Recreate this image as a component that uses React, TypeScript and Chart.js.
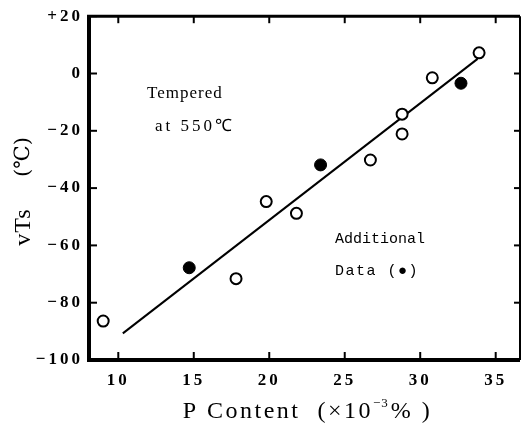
import React, { useEffect, useRef } from "react";
import { Chart, registerables } from "chart.js";

Chart.register(...registerables);

// ---- data ----
const xTickValues = [10, 15, 20, 25, 30, 35];
const yTickValues = [20, 0, -20, -40, -60, -80, -100];

const openX = [9.0, 17.8, 19.8, 21.8, 26.7, 28.8, 28.8, 30.8, 33.9];
const openY = [-86.4, -71.6, -44.7, -48.8, -30.2, -14.2, -21.1, -1.5, 7.2];

const filledX = [14.7, 23.4, 32.7];
const filledY = [-67.8, -31.9, -3.4];

const fitX = [10.3, 33.8];
const fitY = [-90.7, 5.1];

const xTitleMain = "P Content  (×10";
const xTitleSup = "−3";
const xTitleEnd = "% )";
const yTitleMain = "vTs";
const yTitleUnit = "(℃)";

const notes = [
  { text: "Tempered", x: 11.9, y: -8.5, font: "17px 'Liberation Serif', serif", spacing: "1px" },
  { text: "at 550℃", x: 12.43, y: -20, font: "17px 'Liberation Serif', serif", spacing: "3px" },
  { text: "Additional", x: 24.35, y: -59.3, font: "15px 'Liberation Mono', monospace", spacing: "0px" },
  { text: "Data (●)", x: 24.35, y: -70.4, font: "15px 'Liberation Mono', monospace", spacing: "1.5px" },
];

const fmtY = (v: number) => (v > 0 ? "+" + v : v < 0 ? "−" + Math.abs(v) : "0");

const framePlugin = {
  id: "framePlugin",
  beforeDraw(chart: any) {
    chart.ctx.letterSpacing = "3px";
  },
  beforeDatasetsDraw(chart: any) {
    chart.ctx.letterSpacing = "0px";
  },
  afterDraw(chart: any) {
    const ctx = chart.ctx as CanvasRenderingContext2D;
    const a = chart.chartArea;
    const xs = chart.scales.x;
    const ys = chart.scales.y;
    ctx.save();
    ctx.strokeStyle = "#000";
    ctx.fillStyle = "#000";
    ctx.lineCap = "butt";
    const seg = (x1: number, y1: number, x2: number, y2: number, w: number) => {
      ctx.lineWidth = w;
      ctx.beginPath();
      ctx.moveTo(x1, y1);
      ctx.lineTo(x2, y2);
      ctx.stroke();
    };
    // frame
    seg(a.left, a.top - 1, a.left, a.bottom + 2, 4);
    seg(a.left - 2, a.bottom, a.right, a.bottom, 4);
    seg(a.left - 2, a.top, a.right, a.top, 3);
    seg(a.right, a.top, a.right, a.bottom, 2);
    // inward ticks
    xTickValues.forEach((v) => {
      const p = xs.getPixelForValue(v);
      seg(p, a.bottom, p, a.bottom - 8, 2);
      seg(p, a.top, p, a.top + 7, 2);
    });
    yTickValues.forEach((v) => {
      const p = ys.getPixelForValue(v);
      seg(a.left, p, a.left + 8, p, 2);
      seg(a.right, p, a.right - 6, p, 2);
    });

    // annotations
    ctx.textAlign = "left";
    ctx.textBaseline = "alphabetic";
    notes.forEach((n) => {
      ctx.font = n.font;
      (ctx as any).letterSpacing = n.spacing;
      ctx.fillText(n.text, xs.getPixelForValue(n.x), ys.getPixelForValue(n.y));
    });

    // x title
    const big = "24px 'Liberation Serif', serif";
    const small = "13px 'Liberation Serif', serif";
    (ctx as any).letterSpacing = "2.5px";
    ctx.font = big;
    const w1 = ctx.measureText(xTitleMain).width;
    const w3 = ctx.measureText(xTitleEnd).width;
    ctx.font = small;
    (ctx as any).letterSpacing = "1px";
    const w2 = ctx.measureText(xTitleSup).width + 2;
    const total = w1 + w2 + w3;
    const cx = (a.left + a.right) / 2 + 3;
    const base = 418;
    let sx = cx - total / 2;
    ctx.font = big;
    (ctx as any).letterSpacing = "2.5px";
    ctx.fillText(xTitleMain, sx, base);
    sx += w1;
    ctx.font = small;
    (ctx as any).letterSpacing = "1px";
    ctx.fillText(xTitleSup, sx, base - 11);
    sx += w2;
    ctx.font = big;
    (ctx as any).letterSpacing = "2.5px";
    ctx.fillText(xTitleEnd, sx, base);

    // y title (rotated)
    ctx.save();
    ctx.translate(24, 195);
    ctx.rotate(-Math.PI / 2);
    ctx.textAlign = "center";
    ctx.textBaseline = "middle";
    ctx.font = "24px 'Liberation Serif', serif";
    (ctx as any).letterSpacing = "1px";
    ctx.fillText(yTitleMain, -32, 0);
    ctx.font = "21px 'DejaVu Serif', serif";
    (ctx as any).letterSpacing = "0px";
    ctx.fillText(yTitleUnit, 38, 0);
    ctx.restore();

    (ctx as any).letterSpacing = "0px";
    ctx.restore();
  },
};

export default function App() {
  const ref = useRef<HTMLCanvasElement | null>(null);
  useEffect(() => {
    if (!ref.current) return;
    const tickFont = { family: "'Liberation Serif', serif", size: 17, weight: "bold" as const };
    const chart = new Chart(ref.current, {
      type: "scatter",
      data: {
        datasets: [
          {
            label: "fit",
            data: fitX.map((x, i) => ({ x, y: fitY[i] })),
            showLine: true,
            borderColor: "#000",
            borderWidth: 2,
            pointRadius: 0,
            order: 3,
          },
          {
            label: "open",
            data: openX.map((x, i) => ({ x, y: openY[i] })),
            pointStyle: "circle",
            pointRadius: 5.5,
            pointBorderWidth: 2,
            pointBorderColor: "#000",
            pointBackgroundColor: "#fff",
            order: 1,
          },
          {
            label: "additional",
            data: filledX.map((x, i) => ({ x, y: filledY[i] })),
            pointStyle: "circle",
            pointRadius: 6,
            pointBorderWidth: 1,
            pointBorderColor: "#000",
            pointBackgroundColor: "#000",
            order: 1,
          },
        ],
      },
      options: {
        animation: false,
        responsive: false,
        devicePixelRatio: 1,
        layout: { padding: { top: 16, right: 1, left: 0, bottom: 0 }, autoPadding: false },
        plugins: { legend: { display: false }, tooltip: { enabled: false } },
        scales: {
          x: {
            type: "linear",
            min: 8.06,
            max: 36.61,
            afterFit: (s: any) => {
              s.height = 63;
            },
            afterBuildTicks: (s: any) => {
              s.ticks = xTickValues.map((v) => ({ value: v }));
            },
            grid: { display: false, drawTicks: false },
            border: { display: false },
            ticks: { font: tickFont, color: "#000", padding: 10, maxRotation: 0, autoSkip: false },
          },
          y: {
            type: "linear",
            min: -100,
            max: 20,
            afterFit: (s: any) => {
              s.width = 89;
            },
            afterBuildTicks: (s: any) => {
              s.ticks = yTickValues.map((v) => ({ value: v }));
            },
            grid: { display: false, drawTicks: false },
            border: { display: false },
            ticks: {
              font: tickFont,
              color: "#000",
              padding: 6,
              autoSkip: false,
              callback: (v: any) => fmtY(Number(v)),
            },
          },
        },
      },
      plugins: [framePlugin],
    });
    return () => chart.destroy();
  }, []);
  return (
    <div style={{ position: "absolute", left: 0, top: 0, width: 521, height: 423, background: "#fff" }}>
      <canvas ref={ref} width={521} height={423} style={{ display: "block" }} />
    </div>
  );
}
